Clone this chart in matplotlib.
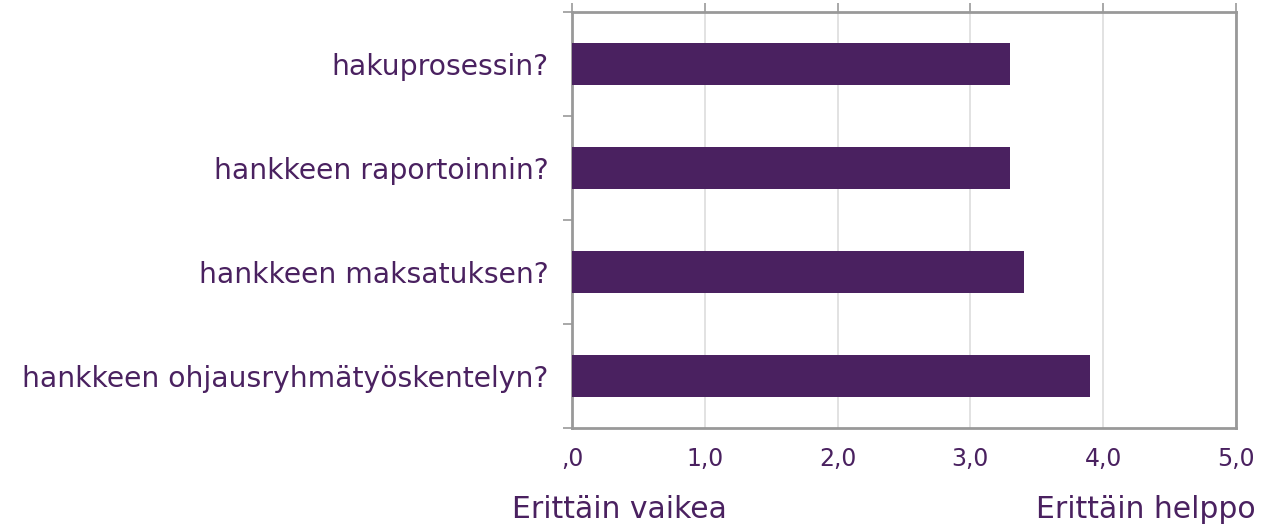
import matplotlib
matplotlib.use("Agg")
import matplotlib.pyplot as plt

# kysymykset (ylhäältä alas) ja keskiarvot
questions = ["hakuprosessin?", "hankkeen raportoinnin?", "hankkeen maksatuksen?",
             "hankkeen ohjausryhmätyöskentelyn?"]
means = [3.3, 3.3, 3.4, 3.9]
xticks = [0, 1, 2, 3, 4, 5]
xtick_labels = [",0", "1,0", "2,0", "3,0", "4,0", "5,0"]

purple = "#4a2160"
border = "#999999"

plt.rcParams['font.family'] = ['DejaVu Sans']

fig = plt.figure(figsize=(12.81, 5.24), dpi=100)
ax = fig.add_axes([0.4465, 0.1832, 0.5184, 0.7939])

ypos = list(range(len(questions)))[::-1]
ax.barh(ypos, means, height=0.405, color=purple, zorder=3)

ax.set_xlim(0, 5)
ax.set_ylim(-0.5, 3.5)
ax.set_xticks(xticks)
ax.set_xticklabels(xtick_labels)
ax.grid(axis="x", color="#dddddd", linewidth=1.2, zorder=0)

# kategoriat erottavat tikit vasemmalla
ax.set_yticks([-0.5, 0.5, 1.5, 2.5, 3.5])
ax.set_yticklabels([])
ax.set_yticks(ypos, minor=True)
ax.set_yticklabels(questions, minor=True)
ax.tick_params(axis="y", which="minor", length=0, pad=17, labelsize=20.3, labelcolor=purple)
ax.tick_params(axis="y", which="major", length=6.5, width=1.2, color=border)

ax.tick_params(axis="x", bottom=False, top=True, labelbottom=True, labeltop=False,
               length=6.5, width=1.2, color=border,
               labelsize=17, labelcolor=purple, pad=7)

for s in ax.spines.values():
    s.set_color(border)
    s.set_linewidth(2)

fig.text(0.3997, 0.012, "Erittäin vaikea", color=purple, fontsize=21.5, ha="left", va="baseline")
fig.text(0.98, 0.012, "Erittäin helppo", color=purple, fontsize=21.5, ha="right", va="baseline")

fig.savefig("out.png", dpi=100)
